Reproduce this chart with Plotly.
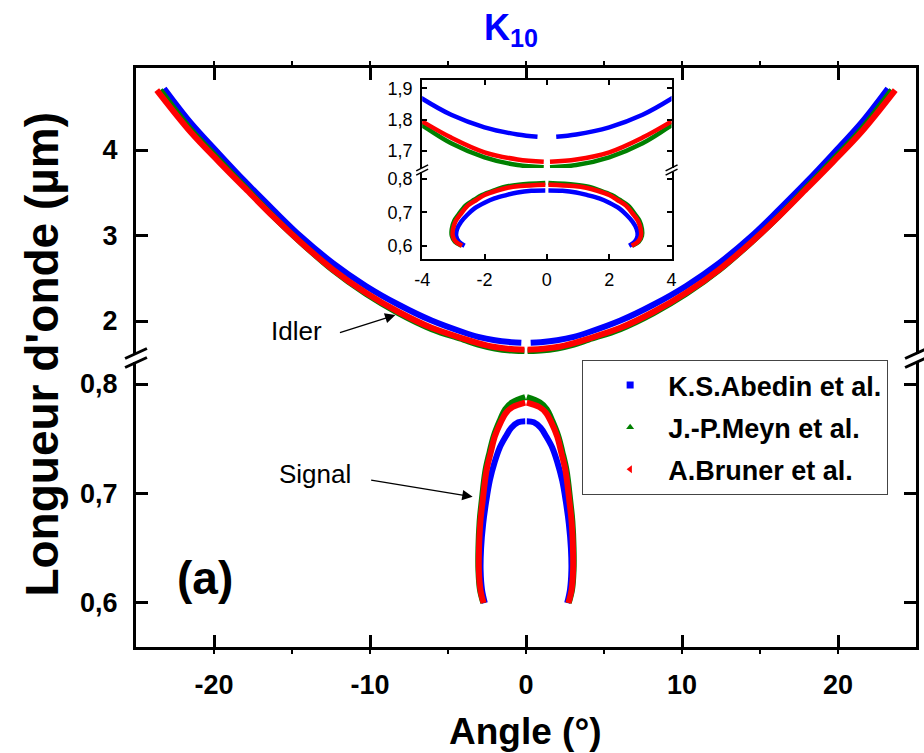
import plotly.graph_objects as go

FONT = "Liberation Sans, Arial, sans-serif"

# ---------------- data ----------------
series_names = ["K.S.Abedin et al.", "J.-P.Meyn et al.", "A.Bruner et al."]
series_colors = ["#0000FF", "#008000", "#FF0000"]
legend_symbols = ["square", "triangle-up", "triangle-left"]

# Idler branch: |angle| (deg) and wavelength (um)
abedin_idler_angle = [0.30, 0.94, 2.0, 3.07, 4.02, 6.05, 8.16, 10.27, 12.4, 14.5, 16.2, 18.0, 19.7, 21.5, 23.2]
abedin_idler_wl = [1.745, 1.752, 1.775, 1.815, 1.868, 2.005, 2.19, 2.41, 2.68, 3.00, 3.30, 3.63, 3.96, 4.32, 4.72]

meyn_idler_angle = [0.10, 0.94, 2.0, 3.07, 4.02, 6.05, 8.16, 10.27, 12.4, 14.5, 16.2, 18.0, 19.7, 21.5, 23.45]
meyn_idler_wl = [1.647, 1.654, 1.679, 1.724, 1.782, 1.905, 2.09, 2.318, 2.597, 2.93, 3.225, 3.565, 3.89, 4.24, 4.70]

bruner_idler_angle = [0.10, 0.94, 2.0, 3.07, 4.02, 6.05, 8.16, 10.27, 12.4, 14.5, 16.2, 18.0, 19.7, 21.5, 23.67]
bruner_idler_wl = [1.665, 1.672, 1.695, 1.742, 1.795, 1.92, 2.105, 2.33, 2.605, 2.93, 3.22, 3.55, 3.865, 4.21, 4.70]

# Signal branch: |angle| (deg) and wavelength (um), from the 0.6 um end to the apex
abedin_signal_angle = [2.64, 2.82, 2.91, 2.88, 2.75, 2.55, 2.32, 2.0, 1.68, 1.30, 0.94, 0.50, 0.05]
abedin_signal_wl = [0.600, 0.612, 0.630, 0.650, 0.672, 0.693, 0.712, 0.729, 0.742, 0.752, 0.760, 0.765, 0.766]

meyn_signal_angle = [2.74, 2.95, 3.05, 3.05, 2.97, 2.84, 2.60, 2.33, 2.08, 1.70, 1.33, 0.90, 0.05]
meyn_signal_wl = [0.600, 0.612, 0.630, 0.650, 0.675, 0.693, 0.721, 0.738, 0.752, 0.766, 0.777, 0.783, 0.788]

bruner_signal_angle = [2.72, 2.92, 3.02, 3.01, 2.92, 2.78, 2.53, 2.25, 2.0, 1.62, 1.26, 0.85, 0.05]
bruner_signal_wl = [0.600, 0.612, 0.630, 0.650, 0.675, 0.693, 0.721, 0.738, 0.752, 0.765, 0.774, 0.779, 0.783]

idler_data = [(abedin_idler_angle, abedin_idler_wl),
              (meyn_idler_angle, meyn_idler_wl),
              (bruner_idler_angle, bruner_idler_wl)]
signal_data = [(abedin_signal_angle, abedin_signal_wl),
               (meyn_signal_angle, meyn_signal_wl),
               (bruner_signal_angle, bruner_signal_wl)]

main_x_ticks = [-20, -10, 0, 10, 20]
main_x_labels = ["-20", "-10", "0", "10", "20"]
main_low_ticks = [0.6, 0.7, 0.8]
main_low_labels = ["0,6", "0,7", "0,8"]
main_high_ticks = [2, 3, 4]
main_high_labels = ["2", "3", "4"]
inset_x_ticks = [-4, -2, 0, 2, 4]
inset_x_labels = ["-4", "-2", "0", "2", "4"]
inset_low_ticks = [0.6, 0.7, 0.8]
inset_low_labels = ["0,6", "0,7", "0,8"]
inset_high_ticks = [1.7, 1.8, 1.9]
inset_high_labels = ["1,7", "1,8", "1,9"]


def mirror(angle, wl):
    x = [-a for a in reversed(angle)] + [None] + list(angle)
    y = list(reversed(wl)) + [None] + list(wl)
    return x, y


# ---------------- layout geometry (pixels) ----------------
W, H = 924, 753
L, R, T, B = 136, 921, 68, 647
PW, PH = R - L, B - T


def px(xp):
    return (xp - L) / PW


def py(yp):
    return (B - yp) / PH


fig = go.Figure()

for (ia, iw), (sa, sw), col in zip(idler_data, signal_data, series_colors):
    xi, yi = mirror(ia, iw)
    xs, ys = mirror(sa, sw)
    fig.add_trace(go.Scatter(x=xi, y=yi, xaxis="x2", yaxis="y2", mode="lines",
                             line=dict(color=col, width=6, shape="spline"),
                             showlegend=False, hoverinfo="skip"))
    fig.add_trace(go.Scatter(x=xs, y=ys, xaxis="x", yaxis="y", mode="lines",
                             line=dict(color=col, width=6, shape="spline"),
                             showlegend=False, hoverinfo="skip"))
    fig.add_trace(go.Scatter(x=xi, y=yi, xaxis="x4", yaxis="y4", mode="lines",
                             line=dict(color=col, width=4.5, shape="spline"),
                             showlegend=False, hoverinfo="skip"))
    fig.add_trace(go.Scatter(x=xs, y=ys, xaxis="x3", yaxis="y3", mode="lines",
                             line=dict(color=col, width=4.5, shape="spline"),
                             showlegend=False, hoverinfo="skip"))

for i, (name, col, sym) in enumerate(zip(series_names, series_colors, legend_symbols)):
    fig.add_trace(go.Scatter(x=[None], y=[None], xaxis="x", yaxis="y", mode="markers",
                             marker=dict(symbol=sym, size=7, color=col),
                             name=name, legendgroup=str(i), showlegend=True))

tick_font_main = dict(family=FONT, size=27, color="black", weight="bold")
tick_font_inset = dict(family=FONT, size=18, color="black")

main_axis_common = dict(showline=True, linecolor="black", linewidth=3, ticks="inside",
                        ticklen=12, tickwidth=3, tickcolor="black", showgrid=False,
                        zeroline=False, tickfont=tick_font_main)
inset_axis_common = dict(showline=True, linecolor="black", linewidth=2, ticks="inside",
                         ticklen=5, tickwidth=1.5, tickcolor="black", showgrid=False,
                         zeroline=False, tickfont=tick_font_inset)
minor_x = dict(ticks="outside", dtick=5, tick0=0, ticklen=4, tickwidth=2, tickcolor="black")

fig.update_layout(
    width=W, height=H,
    margin=dict(l=L, r=W - R, t=T, b=H - B, pad=0),
    paper_bgcolor="white", plot_bgcolor="white",
    separators=",.",
    font=dict(family=FONT, color="black"),
    title=dict(text="<b>K<sub>10</sub></b>", x=511 / W, xanchor="center",
               y=1 - 27 / H, yanchor="middle", yref="container",
               font=dict(family=FONT, size=36, color="#0000FF")),
    xaxis=dict(domain=[0, 1], anchor="y", range=[-25, 25], tickvals=main_x_ticks,
               ticktext=main_x_labels, ticklabelstandoff=12, minor=minor_x,
               **main_axis_common),
    xaxis2=dict(domain=[0, 1], anchor="y2", side="top", matches="x", range=[-25, 25],
                tickvals=main_x_ticks, showticklabels=False, minor=minor_x,
                **main_axis_common),
    yaxis=dict(domain=[0, py(362)], anchor="x", range=[0.5598, 0.8201],
               tickvals=main_low_ticks, ticktext=main_low_labels, mirror="ticks",
               ticklabelstandoff=10, **main_axis_common),
    yaxis2=dict(domain=[py(354), 1], anchor="x2", range=[1.614, 4.959],
                tickvals=main_high_ticks, ticktext=main_high_labels, mirror="ticks",
                ticklabelstandoff=10, **main_axis_common),
    xaxis3=dict(domain=[px(424), px(675)], anchor="y3", range=[-4, 4],
                tickvals=inset_x_ticks, ticktext=inset_x_labels, ticklabelstandoff=3,
                **inset_axis_common),
    xaxis4=dict(domain=[px(424), px(675)], anchor="y4", side="top", matches="x3",
                range=[-4, 4], tickvals=inset_x_ticks, showticklabels=False,
                **inset_axis_common),
    yaxis3=dict(domain=[py(259), py(172)], anchor="x3", range=[0.5601, 0.8213],
                tickvals=inset_low_ticks, ticktext=inset_low_labels, mirror="ticks",
                ticklabelstandoff=4, **inset_axis_common),
    yaxis4=dict(domain=[py(168), py(80)], anchor="x4", range=[1.6446, 1.9266],
                tickvals=inset_high_ticks, ticktext=inset_high_labels, mirror="ticks",
                ticklabelstandoff=4, **inset_axis_common),
    legend=dict(x=px(585), y=py(360), xanchor="left", yanchor="top",
                bgcolor="white", bordercolor="#444444", borderwidth=1,
                font=dict(family=FONT, size=27, color="black", weight="bold"),
                traceorder="grouped", tracegroupgap=4, itemwidth=66,
                indentation=9),
)

shapes = []
for cx in (L, R):
    for off in (-4.5, 4.5):
        shapes.append(dict(type="line", xref="paper", yref="paper",
                           x0=px(cx - 11), y0=py(358 + off + 5),
                           x1=px(cx + 11), y1=py(358 + off - 5),
                           line=dict(color="black", width=3)))
for cx in (424, 675):
    for off in (-2.2, 2.2):
        shapes.append(dict(type="line", xref="paper", yref="paper",
                           x0=px(cx - 6), y0=py(170 + off + 3),
                           x1=px(cx + 6), y1=py(170 + off - 3),
                           line=dict(color="black", width=1.5)))
fig.update_layout(shapes=shapes)

annotations = [
    dict(text="<b>Longueur d'onde (µm)</b>", xref="paper", yref="paper",
         x=px(41), y=py(354), textangle=-90, showarrow=False,
         xanchor="center", yanchor="middle", font=dict(family=FONT, size=46)),
    dict(text="<b>Angle (°)</b>", xref="paper", yref="paper",
         x=px(528), y=py(731), showarrow=False, xanchor="center", yanchor="middle",
         font=dict(family=FONT, size=37)),
    dict(text="Idler", xref="x2", yref="y2", x=-14.7, y=1.88, showarrow=False,
         xanchor="center", yanchor="middle", font=dict(family=FONT, size=26)),
    dict(text="Signal", xref="x", yref="y", x=-13.5, y=0.718, showarrow=False,
         xanchor="center", yanchor="middle", font=dict(family=FONT, size=26)),
    dict(text="<b>(a)</b>", xref="x", yref="y", x=-20.6, y=0.623, showarrow=False,
         xanchor="center", yanchor="middle", font=dict(family=FONT, size=46)),
    dict(text="", xref="x2", yref="y2", x=-8.37, y=2.07, ax=-57, ay=18,
         showarrow=True, arrowhead=2, arrowsize=1.6, arrowwidth=1.3, arrowcolor="black"),
    dict(text="", xref="x", yref="y", x=-3.42, y=0.697, ax=-103, ay=-17,
         showarrow=True, arrowhead=2, arrowsize=1.6, arrowwidth=1.3, arrowcolor="black"),
]
fig.update_layout(annotations=annotations)

fig.write_html("out.html", config={"displayModeBar": False},
               post_script="document.body.style.margin='0';document.body.style.padding='0';")
